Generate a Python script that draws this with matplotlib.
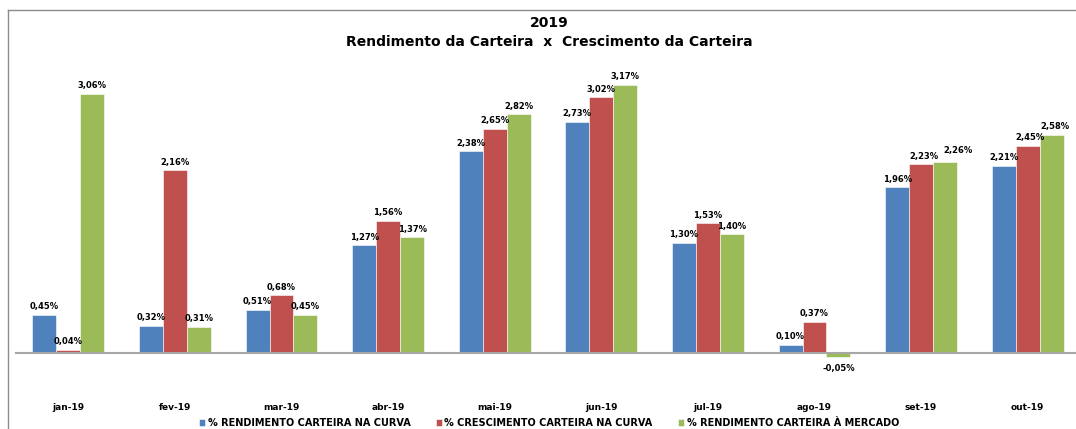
import matplotlib.pyplot as plt
import numpy as np
from matplotlib.lines import Line2D

plt.rcParams['font.family'] = ['DejaVu Sans']
plt.rcParams['font.weight'] = 'bold'

# dados mensais (%)
meses = ['jan-19', 'fev-19', 'mar-19', 'abr-19', 'mai-19', 'jun-19',
         'jul-19', 'ago-19', 'set-19', 'out-19']
rend_curva = [0.45, 0.32, 0.51, 1.27, 2.38, 2.73, 1.30, 0.10, 1.96, 2.21]
cresc_curva = [0.04, 2.16, 0.68, 1.56, 2.65, 3.02, 1.53, 0.37, 2.23, 2.45]
rend_mercado = [3.06, 0.31, 0.45, 1.37, 2.82, 3.17, 1.40, -0.05, 2.26, 2.58]

series = [
    ('% RENDIMENTO CARTEIRA NA CURVA', rend_curva, '#4F81BD'),
    ('% CRESCIMENTO CARTEIRA NA CURVA', cresc_curva, '#C0504D'),
    ('% RENDIMENTO CARTEIRA À MERCADO', rend_mercado, '#9BBB59'),
]

# deslocamento (pontos) de rotulos que se sobrepoem: (serie, mes) -> (dx, dy)
ajuste = {(1, 8): (2, 0), (2, 8): (9, 2), (2, 9): (2, 0), (1, 9): (2, 0)}

W, H = 1076, 429
fig = plt.figure(figsize=(W / 100, H / 100), dpi=100)

# area do grafico em pixels (esquerda, topo, largura, altura)
left, top, width, height = 15, 60, 1066, 310
ax = fig.add_axes([left / W, 1 - (top + height) / H, width / W, height / H])

x = np.arange(len(meses))
bw = 0.225
for i, (nome, vals, cor) in enumerate(series):
    pos = x + (i - 1) * bw
    ax.bar(pos, vals, width=bw, color=cor, edgecolor='white', linewidth=0.4,
           label=nome, zorder=2)
    for j, (px, v) in enumerate(zip(pos, vals)):
        txt = f'{v:.2f}%'.replace('.', ',')
        dx, dy = ajuste.get((i, j), (0, 0))
        if v >= 0:
            ax.annotate(txt, (px, v), xytext=(dx, 2.5 + dy), textcoords='offset points',
                        ha='center', va='bottom', fontsize=6, fontweight='bold')
        else:
            ax.annotate(txt, (px, v), xytext=(dx, -5 + dy), textcoords='offset points',
                        ha='center', va='top', fontsize=6, fontweight='bold')

ax.axhline(0, color='#A6A6A6', linewidth=1.5, zorder=3)
ax.set_xlim(-0.5, len(meses) - 0.5)
ax.set_ylim(-0.2, 3.46)
ax.set_yticks([])
ax.set_xticks(x)
ax.set_xticklabels(meses, fontsize=6.5, fontweight='bold')
ax.tick_params(axis='x', length=0, pad=24)
for s in ax.spines.values():
    s.set_visible(False)

fig.text(549 / W, 1 - 23 / H, '2019', ha='center', va='center',
         fontsize=10, fontweight='bold')
fig.text(549 / W, 1 - 42 / H, 'Rendimento da Carteira  x  Crescimento da Carteira',
         ha='center', va='center', fontsize=10, fontweight='bold')

fig.legend(loc='center', bbox_to_anchor=(549 / W, 1 - 423 / H), ncol=3,
           frameon=False, fontsize=7, handlelength=0.65, handleheight=0.65,
           handletextpad=0.25, columnspacing=2.6, borderpad=0)

# moldura do grafico
borda = '#8C8C8C'
fig.add_artist(Line2D([8 / W, 8 / W], [0, 1 - 10 / H], color=borda, linewidth=1,
                      transform=fig.transFigure))
fig.add_artist(Line2D([8 / W, 1], [1 - 10 / H, 1 - 10 / H], color=borda, linewidth=1,
                      transform=fig.transFigure))

fig.savefig('out.png', dpi=100)
